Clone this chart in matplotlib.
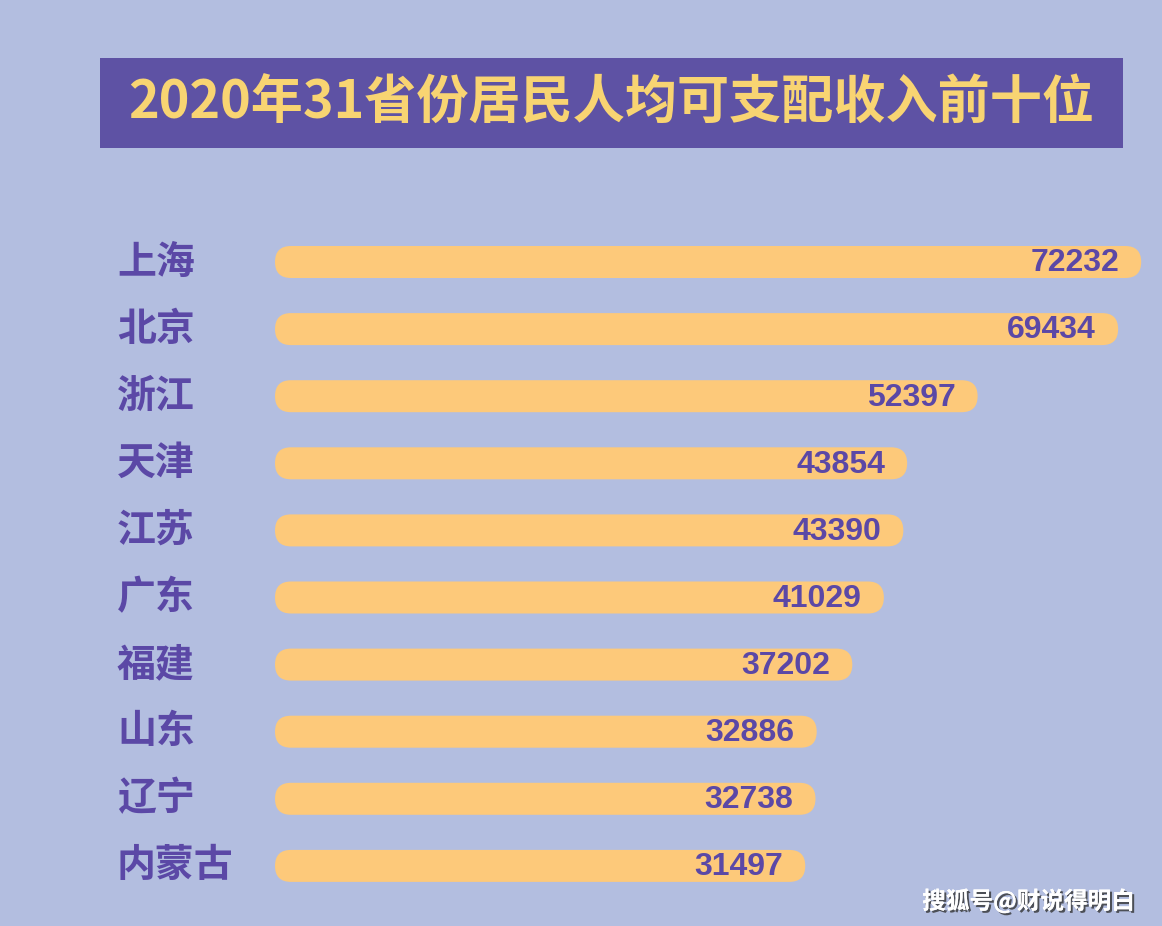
"""2020年31省份居民人均可支配收入前十位 - rounded horizontal bars."""

import matplotlib

matplotlib.use("Agg")
import matplotlib.pyplot as plt
import matplotlib.patheffects as pe
from matplotlib.patches import FancyBboxPatch, Rectangle

provinces = ["上海", "北京", "浙江", "天津", "江苏", "广东", "福建", "山东", "辽宁", "内蒙古"]
income = [72232, 69434, 52397, 43854, 43390, 41029, 37202, 32886, 32738, 31497]
title = "2020年31省份居民人均可支配收入前十位"
watermark = "搜狐号@财说得明白"

BG = "#B3BEE0"
TITLE_BG = "#5E52A4"
TITLE_FG = "#F8D472"
BAR = "#FDC97A"
PURPLE = "#5B48A6"

W, H = 1162, 926
plt.rcParams["font.family"] = ["Noto Sans CJK SC", "DejaVu Sans"]

fig = plt.figure(figsize=(W / 100, H / 100), dpi=100)
fig.patch.set_facecolor(BG)
ax = fig.add_axes([0, 0, 1, 1])
ax.set_facecolor(BG)
ax.axis("off")

# layout in pixels -> data scale
px_per_unit = 0.008247      # horizontal scale of the bars
bar_start = -32800          # value at which every bar begins
bar_left_px = 275
row0_px, row_gap_px = 262, 67.1
x_min = bar_start - bar_left_px / px_per_unit
ax.set_xlim(x_min, x_min + W / px_per_unit)
ax.set_ylim((H - row0_px) / row_gap_px, -row0_px / row_gap_px)

bar_h = 32 / row_gap_px
aspect = px_per_unit / row_gap_px
radius = 16 / px_per_unit

for i, (name, val) in enumerate(zip(provinces, income)):
    patch = FancyBboxPatch(
        (bar_start, i - bar_h / 2), val - bar_start, bar_h,
        boxstyle=f"round,pad=0,rounding_size={radius}",
        mutation_aspect=aspect, facecolor=BAR, edgecolor="none",
    )
    ax.add_patch(patch)
    ax.text(val - 22 / px_per_unit, i + 0.02, str(val), ha="right", va="center",
            fontsize=23, fontweight="bold", color=PURPLE,
            family=["Liberation Sans", "DejaVu Sans"])
    ax.text(117 / W, i, name, transform=ax.get_yaxis_transform(),
            ha="left", va="center", fontsize=28, fontweight="bold", color=PURPLE)

# title banner
fig.patches.append(Rectangle((100 / W, 1 - 148 / H), 1023 / W, 90 / H,
                             transform=fig.transFigure, facecolor=TITLE_BG,
                             edgecolor="none", zorder=0))
fig.text(611 / W, 1 - 103 / H, title, ha="center", va="center",
         fontsize=37.5, fontweight="bold", color=TITLE_FG)

fig.text(1135 / W, 1 - 901 / H, watermark, ha="right", va="center",
         fontsize=17, fontweight="bold", color="white",
         path_effects=[pe.withSimplePatchShadow(offset=(1.5, -1.5), shadow_rgbFace="#333333", alpha=0.8),
                       pe.Normal()])

fig.savefig("out.png", dpi=100, facecolor=BG)
